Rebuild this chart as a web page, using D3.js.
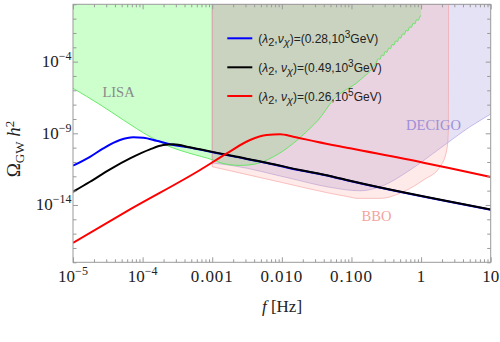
<!DOCTYPE html>
<html><head><meta charset="utf-8">
<script src="https://cdn.jsdelivr.net/npm/d3@7"></script>
<style>html,body{margin:0;padding:0;background:#fff;}svg{display:block;}</style>
</head><body>
<svg id="c" width="500" height="342"></svg>
<script>
// ---- data: pairs are [log10 f(Hz), log10 Omega h^2] ----
const blueCurve = [[-5.0,-11.26],[-4.756,-10.64],[-4.565,-10.05],[-4.325,-9.47],[-4.134,-9.28],[-3.99,-9.31],[-3.80,-9.52],[-3.606,-9.76],[-3.319,-10.0],[-3.175,-10.14],[-2.697,-10.61],[-2.217,-11.07],[-1.739,-11.58],[-1.307,-12.0],[-1.02,-12.33],[1.0,-14.33]];
const blackCurve = [[-5.0,-13.08],[-4.756,-12.38],[-4.468,-11.51],[-4.181,-10.75],[-3.894,-10.12],[-3.703,-9.82],[-3.559,-9.77],[-3.319,-9.98],[-3.175,-10.12],[-2.697,-10.59],[-2.217,-11.05],[-1.739,-11.56],[-1.307,-11.98],[-1.02,-12.31],[1.0,-14.31]];
const redCurve = [[-5.0,-16.64],[-4.181,-14.31],[-3.175,-11.56],[-2.79,-10.40],[-2.457,-9.47],[-2.217,-9.12],[-2.026,-9.07],[-1.835,-9.24],[-1.5,-9.59],[-1.02,-10.05],[0.033,-11.05],[0.417,-11.44],[1.0,-12.05]];
const lisaCurve = [[-5.0,-5.86],[-4.612,-7.0],[-4.277,-8.07],[-3.894,-9.24],[-3.606,-9.94],[-3.319,-10.40],[-2.984,-10.87],[-2.888,-11.05],[-2.60,-11.24],[-2.41,-11.17],[-2.122,-10.64],[-1.835,-9.70],[-1.595,-8.65],[-1.476,-8.07],[-1.264,-6.68],[-0.876,-5.28],[-0.64,-4.03],
  [-0.615,-3.79],[-0.59,-3.85],[-0.565,-3.54],[-0.54,-3.60],[-0.515,-3.29],[-0.49,-3.35],[-0.465,-3.05],[-0.44,-3.10],[-0.415,-2.80],[-0.39,-2.86],[-0.365,-2.55],[-0.34,-2.61],[-0.315,-2.31],[-0.29,-2.36],[-0.265,-2.06],[-0.24,-2.11],[-0.215,-1.81],[-0.19,-1.87],[-0.165,-1.57],[-0.14,-1.62],[-0.115,-1.32],[-0.09,-1.37],[-0.065,-1.07],[-0.04,-1.12],[-0.015,-0.83],[0.0,-0.80],[0.001,0.0]];
const bboCurve = [[-3.0,-11.33],[-2.0,-12.43],[-1.307,-13.19],[-1.02,-13.45],[-0.924,-13.54],[-0.589,-13.54],[-0.254,-13.08],[0.033,-12.26],[0.273,-11.33],[0.369,-10.17],[0.392,-8.77],[0.395,0.0]];
const decigoCurve = [[-3.0,-11.07],[-2.70,-11.26],[-1.882,-12.14],[-1.307,-12.77],[-0.876,-13.01],[-0.589,-12.73],[-0.158,-11.56],[0.273,-10.05],[0.704,-8.54],[1.016,-7.61],[1.4,-6.45]];
const xTickLabels = [["10","−5"],["10","−4"],["0.001",""],["0.010",""],["0.100",""],["1",""],["10",""]];
const yTickLabels = [[-14,"−14"],[-9,"−9"],[-4,"−4"]];
const legendValues = [["0.28","3"],["0.49","3"],["0.26","5"]];
const legendSep = [",", ", ", ", "];
const seriesColors = ["#0000ff","#000000","#ff0000"];

// ---- layout ----
const svg = d3.select("#c");
const L = 73, R = 490.7, T = 4.3, B = 262.3;
const x = d3.scaleLog().domain([1e-5, 10]).range([L, R]);
const y = d3.scaleLog().domain([1e-18, 1]).range([B, T]);
const px = d => x(Math.pow(10, d[0]));
const py = d => y(Math.pow(10, d[1]));

svg.append("defs").append("clipPath").attr("id","clip")
  .append("rect").attr("x",L).attr("y",T).attr("width",R-L).attr("height",B-T);
const plot = svg.append("g").attr("clip-path","url(#clip)");

const areaAbove = d3.area().x(px).y0(y(1)).y1(py).curve(d3.curveMonotoneX);
const lineGen = d3.line().x(px).y(py).curve(d3.curveMonotoneX);

// LISA
plot.append("path").attr("d", areaAbove(lisaCurve)).attr("fill","#ccffcc").attr("stroke","none");
// DECIGO
plot.append("path").attr("d", areaAbove(decigoCurve)).attr("fill","rgba(130,110,205,0.2)").attr("stroke","rgba(140,120,215,0.55)").attr("stroke-width",0.8);
// BBO
plot.append("path").attr("d", areaAbove(bboCurve)).attr("fill","rgba(250,160,150,0.22)").attr("stroke","rgba(245,150,150,0.7)").attr("stroke-width",0.8);
// LISA outline
plot.append("path").attr("d", lineGen(lisaCurve.slice(0,-1))).attr("fill","none").attr("stroke","#5ee65e").attr("stroke-width",0.9);

// region labels
const serif = "'Liberation Serif','Times New Roman',serif";
svg.append("text").attr("x",118.5).attr("y",96.5).attr("text-anchor","middle").attr("font-family",serif).attr("font-size",14.5).attr("fill","#8a8a8a").text("LISA");
svg.append("text").attr("x",433.5).attr("y",130).attr("text-anchor","middle").attr("font-family",serif).attr("font-size",14.5).attr("fill","#9d90d8").text("DECIGO");
svg.append("text").attr("x",376.5).attr("y",221).attr("text-anchor","middle").attr("font-family",serif).attr("font-size",14.5).attr("fill","#f3a49c").text("BBO");

// curves
[blueCurve, blackCurve, redCurve].forEach((c,i) => {
  plot.append("path").attr("d", lineGen(c)).attr("fill","none").attr("stroke",seriesColors[i]).attr("stroke-width",2);
});

// frame & ticks
const tickColor = "#9a9a9a";
const majorX = d3.range(-5, 2).map(e => Math.pow(10, e));
const minorX = [];
d3.range(-5, 1).forEach(e => { for (let k = 2; k <= 9; k++) minorX.push(k * Math.pow(10, e)); });
const decY = d3.range(-18, 1).map(e => Math.pow(10, e));
const labY = yTickLabels.map(d => Math.pow(10, d[0]));
const otherY = decY.filter(v => !labY.some(l => Math.abs(Math.log10(l) - Math.log10(v)) < 1e-6));

function styleAxis(g){ g.select(".domain").remove(); g.selectAll("line").attr("stroke",tickColor).attr("stroke-width",1); g.selectAll("text").remove(); }
svg.append("g").attr("transform",`translate(0,${B})`).call(d3.axisBottom(x).tickValues(majorX).tickSize(-5).tickFormat("")).call(styleAxis);
svg.append("g").attr("transform",`translate(0,${B})`).call(d3.axisBottom(x).tickValues(minorX).tickSize(-3).tickFormat("")).call(styleAxis);
svg.append("g").attr("transform",`translate(0,${T})`).call(d3.axisTop(x).tickValues(majorX).tickSize(-5).tickFormat("")).call(styleAxis);
svg.append("g").attr("transform",`translate(0,${T})`).call(d3.axisTop(x).tickValues(minorX).tickSize(-3).tickFormat("")).call(styleAxis);
svg.append("g").attr("transform",`translate(${L},0)`).call(d3.axisLeft(y).tickValues(labY).tickSize(-5).tickFormat("")).call(styleAxis);
svg.append("g").attr("transform",`translate(${L},0)`).call(d3.axisLeft(y).tickValues(otherY).tickSize(-3.5).tickFormat("")).call(styleAxis);
svg.append("g").attr("transform",`translate(${R},0)`).call(d3.axisRight(y).tickValues(labY).tickSize(-5).tickFormat("")).call(styleAxis);
svg.append("g").attr("transform",`translate(${R},0)`).call(d3.axisRight(y).tickValues(otherY).tickSize(-3.5).tickFormat("")).call(styleAxis);
svg.append("rect").attr("x",L).attr("y",T).attr("width",R-L).attr("height",B-T).attr("fill","none").attr("stroke",tickColor).attr("stroke-width",1);

// tick labels
xTickLabels.forEach((lab,i) => {
  const t = svg.append("text").attr("x", x(majorX[i])).attr("y", 282).attr("text-anchor","middle")
    .attr("font-family",serif).attr("font-size",17).attr("fill","#222");
  if (lab[0].includes(".")) t.attr("letter-spacing", 0.9);
  t.append("tspan").text(lab[0]);
  if (lab[1]) t.append("tspan").attr("font-size",12).attr("dy",-7).text(lab[1]);
});
yTickLabels.forEach(d => {
  const t = svg.append("text").attr("x", L - 1.5).attr("y", y(Math.pow(10,d[0])) + 5.5).attr("text-anchor","end")
    .attr("font-family",serif).attr("font-size",17).attr("fill","#222");
  t.append("tspan").text("10");
  t.append("tspan").attr("font-size",12).attr("dy",-7).text(d[1]);
});

// axis titles
const xt = svg.append("text").attr("x",282).attr("y",312).attr("text-anchor","middle").attr("font-family",serif).attr("font-size",17).attr("fill","#222");
xt.append("tspan").attr("font-style","italic").text("f");
xt.append("tspan").text(" [Hz]");
const yt = svg.append("text").attr("transform","translate(20,149) rotate(-90)").attr("text-anchor","middle").attr("font-family",serif).attr("font-size",19).attr("fill","#222");
yt.append("tspan").text("Ω");
yt.append("tspan").attr("font-size",13).attr("dy",4).text("GW");
yt.append("tspan").attr("dy",-4).text(" ");
yt.append("tspan").attr("font-style","italic").text("h");
yt.append("tspan").attr("font-size",13).attr("dy",-6.5).text("2");

// legend
const sans = "'Liberation Sans',Arial,sans-serif";
const legY = [38.3, 67.3, 96];
legendValues.forEach((v,i) => {
  svg.append("line").attr("x1",227.3).attr("x2",252.3).attr("y1",legY[i]).attr("y2",legY[i]).attr("stroke",seriesColors[i]).attr("stroke-width",2);
  const t = svg.append("text").attr("x",258.3).attr("y",legY[i]+4.5).attr("font-family",sans).attr("font-size",12).attr("fill","#222").attr("xml:space","preserve");
  t.append("tspan").text("(");
  t.append("tspan").attr("font-style","italic").text("λ");
  t.append("tspan").attr("font-size",11).attr("dy",3).text("2");
  t.append("tspan").attr("dy",-3).text(legendSep[i]);
  t.append("tspan").attr("font-style","italic").text("ν");
  t.append("tspan").attr("font-size",11).attr("font-style","italic").attr("dy",3).text("χ");
  t.append("tspan").attr("dy",-3).text(")=(" + v[0] + ",10");
  t.append("tspan").attr("font-size",10).attr("dy",-5).text(v[1]);
  t.append("tspan").attr("dy",5).text("GeV)");
});
</script>
</body></html>
